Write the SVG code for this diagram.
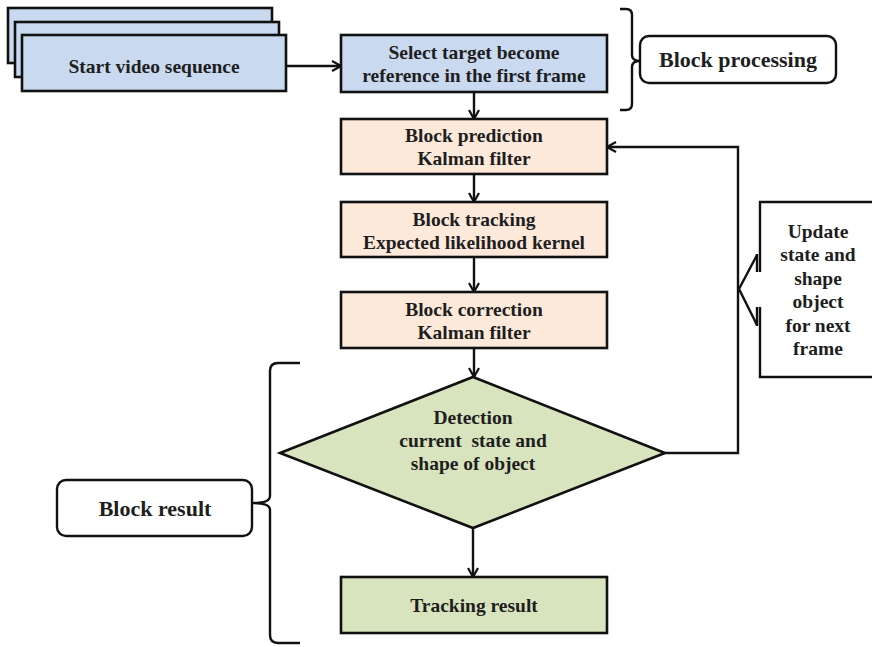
<svg xmlns="http://www.w3.org/2000/svg" width="872" height="647" viewBox="0 0 872 647">
<defs>
<style>
text{font-family:'Liberation Serif','DejaVu Serif',serif;font-weight:700;font-size:19.5px;fill:#1e1e1e;text-anchor:middle}
text.tl{font-size:22px}
.blue{fill:#c9d9ef;stroke:#111;stroke-width:2.6}
.peach{fill:#fde9da;stroke:#111;stroke-width:2.6}
.green{fill:#d8e4bd;stroke:#111;stroke-width:2.6}
.lbl{fill:#fff;stroke:#111;stroke-width:2.4}
.ln{fill:none;stroke:#111;stroke-width:2.4}
</style>
<marker id="ah" viewBox="0 0 12 12" refX="11" refY="6" markerWidth="12" markerHeight="12" orient="auto" markerUnits="userSpaceOnUse">
<path d="M2,1 L11,6 L2,11" fill="none" stroke="#111" stroke-width="2.2"/>
</marker>
</defs>
<rect width="872" height="647" fill="#fff"/>

<g id="start">
<rect class="blue" x="8" y="8" width="264" height="55"/>
<rect class="blue" x="15" y="22" width="264" height="55"/>
<rect class="blue" x="22" y="35" width="264" height="56"/>
<text x="154" y="73">Start video sequence</text>
</g>

<g id="select">
<rect class="blue" x="341" y="35" width="266" height="57"/>
<text x="474" y="59">Select target become</text>
<text x="474" y="82">reference in the first frame</text>
</g>

<g id="prediction">
<rect class="peach" x="341" y="119" width="266" height="55"/>
<text x="474" y="142">Block prediction</text>
<text x="474" y="165">Kalman filter</text>
</g>

<g id="tracking">
<rect class="peach" x="341" y="202" width="266" height="55"/>
<text x="474" y="226">Block tracking</text>
<text x="474" y="249">Expected likelihood kernel</text>
</g>

<g id="correction">
<rect class="peach" x="341" y="292" width="266" height="56"/>
<text x="474" y="316">Block correction</text>
<text x="474" y="339">Kalman filter</text>
</g>

<g id="detection">
<polygon class="green" points="473,377 665,453 473,528 280,453"/>
<text x="473" y="424">Detection</text>
<text x="473" y="447" xml:space="preserve">current  state and</text>
<text x="473" y="470">shape of object</text>
</g>

<g id="result">
<rect class="green" x="341" y="577" width="266" height="56"/>
<text x="474" y="612">Tracking result</text>
</g>

<g id="update">
<path class="ln" d="M760,272 V202 H880 V377 H760 V307" fill="#fff"/>
<path class="ln" d="M757,254 V272 M757,307 V326"/>
<path class="ln" d="M757,255 L739,289 L757,325"/>
<text x="818" y="238">Update</text>
<text x="818" y="261">state and</text>
<text x="818" y="285">shape</text>
<text x="818" y="308">object</text>
<text x="818" y="332">for next</text>
<text x="818" y="355">frame</text>
</g>

<g id="block-processing">
<path class="ln" d="M620,9 H626 Q632,9 632,15 V55 Q632,61 640,61 Q632,61 632,67 V104 Q632,110 626,110 H620"/>
<rect class="lbl" x="640" y="36" width="196" height="47" rx="9"/>
<text class="tl" x="738" y="67">Block processing</text>
</g>

<g id="block-result">
<path class="ln" d="M300,363 H278 Q270,363 270,371 V496 Q270,503 253,503 Q270,503 270,510 V635 Q270,643 278,643 H300"/>
<rect class="lbl" x="57" y="480" width="195" height="56" rx="9"/>
<text class="tl" x="155" y="516">Block result</text>
</g>

<g id="connectors">
<line class="ln" x1="286" y1="66" x2="341" y2="66" marker-end="url(#ah)"/>
<line class="ln" x1="474" y1="92" x2="474" y2="119" marker-end="url(#ah)"/>
<line class="ln" x1="474" y1="174" x2="474" y2="202" marker-end="url(#ah)"/>
<line class="ln" x1="474" y1="257" x2="474" y2="292" marker-end="url(#ah)"/>
<line class="ln" x1="474" y1="348" x2="474" y2="377" marker-end="url(#ah)"/>
<line class="ln" x1="473" y1="528" x2="473" y2="577" marker-end="url(#ah)"/>
<path class="ln" d="M665,453 H738 V147 H607" marker-end="url(#ah)"/>
</g>
</svg>
